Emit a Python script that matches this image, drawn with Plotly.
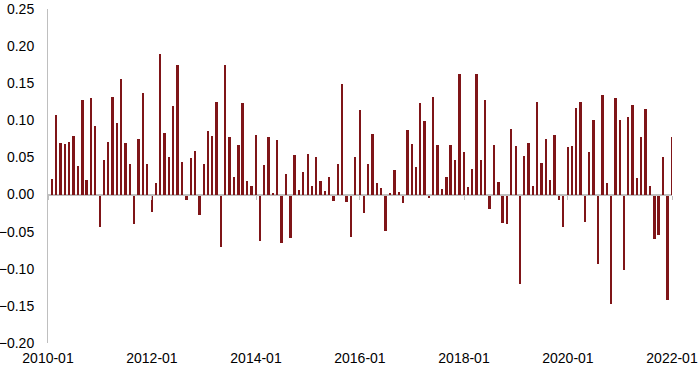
import pandas as pd
import plotly.graph_objects as go

months = pd.date_range("2010-02-01", "2022-01-01", freq="MS").strftime("%Y-%m-%d").tolist()

v2010 = [0.0205, 0.107, 0.069, 0.068, 0.071, 0.079, 0.038, 0.127, 0.0196, 0.130, 0.092]
v2011 = [-0.044, 0.047, 0.071, 0.131, 0.096, 0.156, 0.069, 0.041, -0.039, 0.075, 0.137, 0.041]
v2012 = [-0.024, 0.016, 0.190, 0.083, 0.051, 0.119, 0.175, 0.044, -0.008, 0.049, 0.059, -0.028]
v2013 = [0.041, 0.085, 0.079, 0.125, -0.070, 0.175, 0.077, 0.023, 0.067, 0.123, 0.018, 0.012]
v2014 = [0.080, -0.063, 0.040, 0.077, 0.002, 0.073, -0.065, 0.028, -0.059, 0.053, 0.006, 0.031]
v2015 = [0.055, 0.011, 0.050, 0.018, 0.005, 0.023, -0.009, 0.041, 0.149, -0.010, -0.057, 0.050]
v2016 = [0.114, -0.025, 0.041, 0.081, 0.015, 0.009, -0.049, 0.002, 0.033, 0.004, -0.012, 0.087]
v2017 = [0.068, 0.037, 0.123, 0.099, -0.005, 0.132, 0.067, 0.008, 0.023, 0.067, 0.046, 0.163]
v2018 = [0.058, 0.010, 0.034, 0.162, 0.046, 0.127, -0.020, 0.067, 0.017, -0.038, -0.039, 0.088]
v2019 = [0.065, -0.121, 0.052, 0.070, 0.012, 0.125, 0.042, 0.075, 0.020, 0.080, -0.008, -0.044]
v2020 = [0.064, 0.065, 0.117, 0.125, -0.037, 0.057, 0.101, -0.093, 0.134, 0.016, -0.148, 0.130]
v2021 = [0.100, -0.101, 0.105, 0.120, 0.022, 0.078, 0.115, 0.012, -0.060, -0.054, 0.051, -0.142]
v2022 = [0.077]

values = v2010 + v2011 + v2012 + v2013 + v2014 + v2015 + v2016 + v2017 + v2018 + v2019 + v2020 + v2021 + v2022

tick_vals = ["2010-01-01", "2012-01-01", "2014-01-01", "2016-01-01", "2018-01-01", "2020-01-01", "2022-01-01"]
tick_text = ["2010-01", "2012-01", "2014-01", "2016-01", "2018-01", "2020-01", "2022-01"]
y_ticks = [0.25, 0.20, 0.15, 0.10, 0.05, 0.00, -0.05, -0.10, -0.15, -0.20]

axis_color = "#BFBFBF"
x_range = ["2010-01-01", "2022-01-01"]

fig = go.Figure()
fig.add_trace(go.Scatter(x=x_range, y=[0, 0], xaxis="x2", mode="lines",
                         line=dict(width=0), hoverinfo="skip", showlegend=False))
fig.add_trace(go.Bar(x=months, y=values, marker=dict(color="#7F1518", line=dict(width=0)),
                     width=1000 * 3600 * 24 * 13, showlegend=False))

fig.update_layout(
    width=700, height=371,
    margin=dict(l=48, r=28, t=9, b=28),
    plot_bgcolor="white", paper_bgcolor="white",
    font=dict(family="Liberation Sans, Arial, sans-serif", size=14, color="#000000"),
    bargap=0,
    xaxis=dict(type="date", range=x_range, tickvals=tick_vals, ticktext=tick_text,
               showgrid=False, zeroline=False, showline=False, ticks="",
               automargin=False, ticklabelstandoff=5),
    xaxis2=dict(type="date", range=x_range, tickvals=tick_vals, showticklabels=False,
                overlaying="x", anchor="free", position=0.2 / 0.45,
                showgrid=False, zeroline=False, showline=True, linecolor=axis_color,
                linewidth=1, ticks="outside", ticklen=4, tickcolor=axis_color),
    yaxis=dict(range=[-0.20, 0.25], tickvals=y_ticks, tickformat=".2f",
               showgrid=False, zeroline=True, zerolinecolor=axis_color, zerolinewidth=1,
               showline=True, linecolor=axis_color,
               linewidth=1, ticks="", ticklabelstandoff=10, automargin=False),
)

fig.write_html("out.html", config={"displayModeBar": False},
               post_script="document.body.style.margin='0';document.body.style.overflow='hidden';")
